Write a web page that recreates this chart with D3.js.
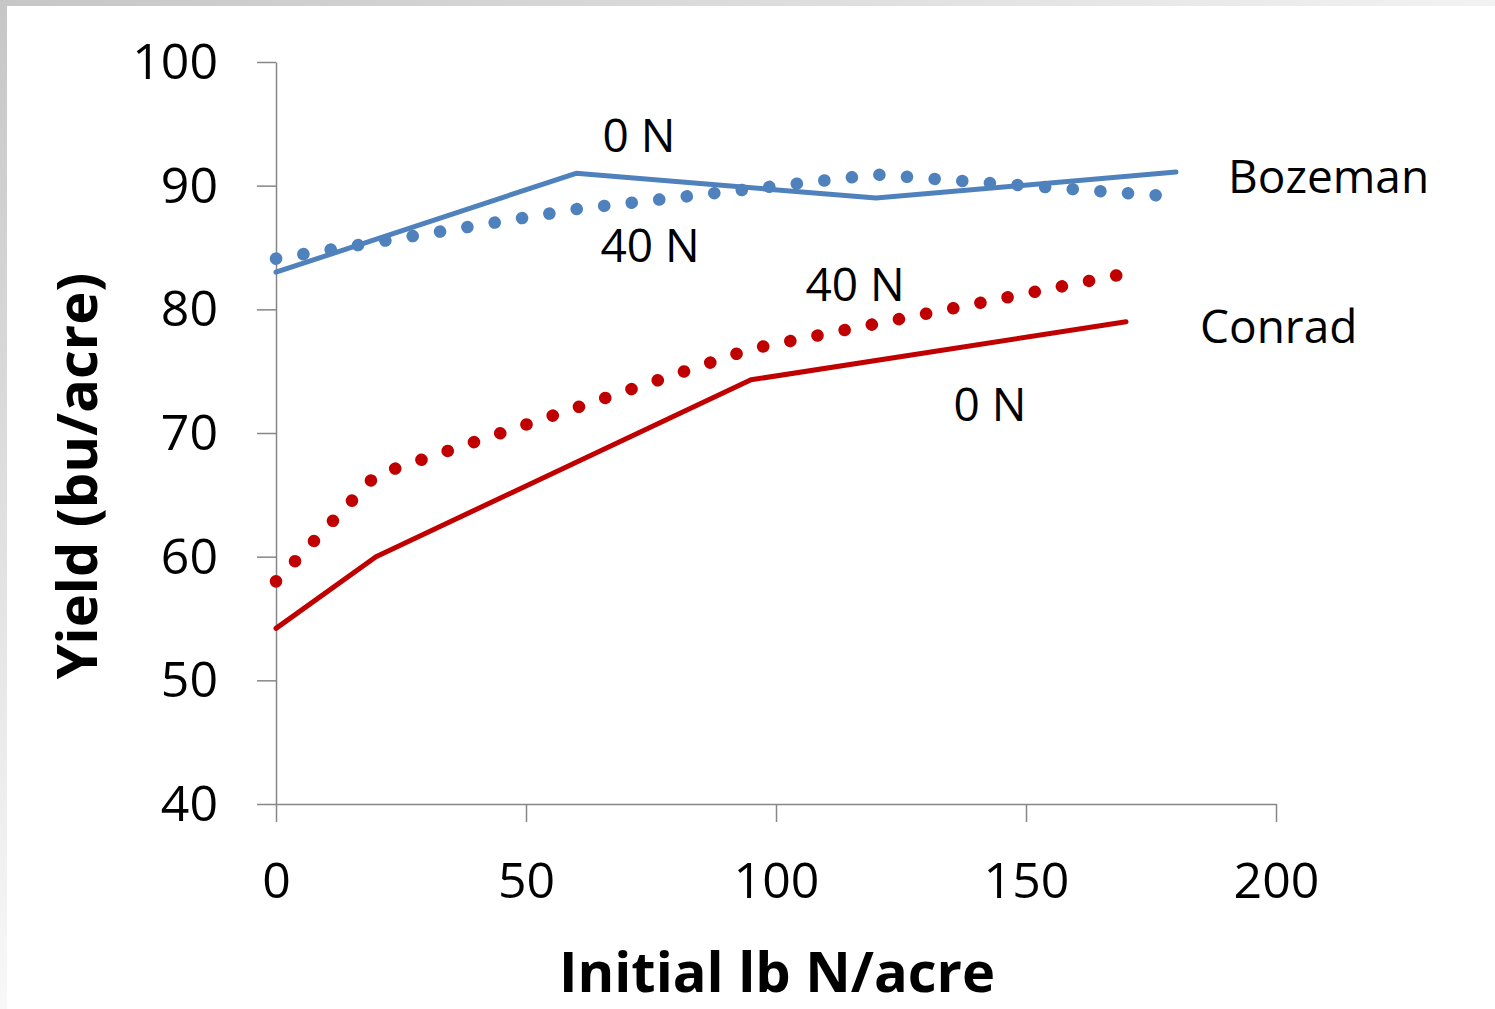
<!DOCTYPE html>
<html>
<head>
    <meta charset="utf-8">
    <title>Yield vs initial N</title>
    <style>
        body { margin: 0; background: #fff; }
        text { font-family: "Open Sans", "Noto Sans", sans-serif; fill: #000; }
    </style>
</head>
<body>
    <div id="chart"></div>

    <script src="https://d3js.org/d3.v7.min.js"></script>
    <script>
var xTicks = [0, 50, 100, 150, 200];
var yTicks = [40, 50, 60, 70, 80, 90, 100];

var bozemanN = [0, 60, 120, 180];
var bozeman0N = [83, 91, 89, 91.1];
var bozeman40N = [84.1, 88.1, 90.9, 89.1];

var conradN = [0, 20, 95, 170];
var conrad0N = [54.2, 60, 74.3, 79];
var conrad40N = [58, 66.6, 76.8, 82.9];

var width = 1495;
var height = 1009;

var svg = d3.select('#chart')
    .append('svg')
    .attr('width', width)
    .attr('height', height);

// grey frame at top and left
var defs = svg.append('defs');
var gTop = defs.append('linearGradient').attr('id', 'gTop');
gTop.append('stop').attr('offset', '0%').attr('stop-color', '#c6c6c6');
gTop.append('stop').attr('offset', '100%').attr('stop-color', '#f2f2f2');
var gLeft = defs.append('linearGradient').attr('id', 'gLeft')
    .attr('x1', 0).attr('y1', 0).attr('x2', 0).attr('y2', 1);
gLeft.append('stop').attr('offset', '0%').attr('stop-color', '#c6c6c6');
gLeft.append('stop').attr('offset', '100%').attr('stop-color', '#f8f8f8');

svg.append('rect').attr('x', 0).attr('y', 0).attr('width', width).attr('height', 6)
    .attr('fill', 'url(#gTop)');
svg.append('rect').attr('x', 0).attr('y', 0).attr('width', 7).attr('height', height)
    .attr('fill', 'url(#gLeft)');

var x = d3.scaleLinear().domain([0, 200]).range([276, 1276]);
var y = d3.scaleLinear().domain([40, 100]).range([804, 62]);

var axisColor = '#868686';

var yAxis = svg.append('g')
    .attr('transform', 'translate(276,0)')
    .call(d3.axisLeft(y).tickValues(yTicks).tickSize(19).tickPadding(39).tickSizeOuter(0));
var xAxis = svg.append('g')
    .attr('transform', 'translate(0,804)')
    .call(d3.axisBottom(x).tickValues(xTicks).tickSize(18).tickPadding(40).tickSizeOuter(0));

[xAxis, yAxis].forEach(function(a) {
    a.selectAll('path, line').attr('stroke', axisColor).attr('stroke-width', 1.5);
    a.selectAll('text')
        .attr('fill', '#000')
        .style('font-size', '50px')
        .style('font-family', '"Open Sans", sans-serif');
});
yAxis.selectAll('text').attr('dy', '0.33em');
xAxis.selectAll('text').attr('dy', '0.71em');

var line = d3.line()
    .x(function(d) { return x(d[0]); })
    .y(function(d) { return y(d[1]); });

function pairs(xs, ys) {
    return xs.map(function(v, i) { return [v, ys[i]]; });
}

var blue = '#4f81bd';
var red = '#c00000';

var series = [
    { data: pairs(bozemanN, bozeman0N), color: blue, dotted: false },
    { data: pairs(bozemanN, bozeman40N), color: blue, dotted: true },
    { data: pairs(conradN, conrad0N), color: red, dotted: false },
    { data: pairs(conradN, conrad40N), color: red, dotted: true }
];

svg.selectAll('path.series')
    .data(series)
    .enter()
    .append('path')
    .attr('class', 'series')
    .attr('d', function(d) { return line(d.data); })
    .attr('fill', 'none')
    .attr('stroke', function(d) { return d.color; })
    .attr('stroke-width', function(d) { return d.dotted ? 12.5 : 5; })
    .attr('stroke-linecap', 'round')
    .attr('stroke-linejoin', 'round')
    .attr('stroke-dasharray', function(d) { return d.dotted ? '0.1 27.6' : null; });

// in-chart labels
var labels = [
    { text: '0 N', x: 639, y: 136, anchor: 'middle' },
    { text: '40 N', x: 650, y: 246, anchor: 'middle' },
    { text: '40 N', x: 855, y: 285, anchor: 'middle' },
    { text: '0 N', x: 990, y: 405, anchor: 'middle' },
    { text: 'Bozeman', x: 1228, y: 177, anchor: 'start' },
    { text: 'Conrad', x: 1200, y: 327, anchor: 'start' }
];

svg.selectAll('text.lab')
    .data(labels)
    .enter()
    .append('text')
    .attr('class', 'lab')
    .attr('x', function(d) { return d.x; })
    .attr('y', function(d) { return d.y; })
    .attr('dy', '0.35em')
    .attr('text-anchor', function(d) { return d.anchor; })
    .style('font-size', '46px')
    .text(function(d) { return d.text; });

// axis titles
svg.append('text')
    .attr('x', 777)
    .attr('y', 972)
    .attr('dy', '0.35em')
    .attr('text-anchor', 'middle')
    .style('font-size', '56px')
    .style('font-weight', 'bold')
    .text('Initial lb N/acre');

svg.append('text')
    .attr('transform', 'translate(77,476) rotate(-90)')
    .attr('dy', '0.35em')
    .attr('text-anchor', 'middle')
    .style('font-size', '56px')
    .style('font-weight', 'bold')
    .text('Yield (bu/acre)');
    </script>
</body>
</html>
